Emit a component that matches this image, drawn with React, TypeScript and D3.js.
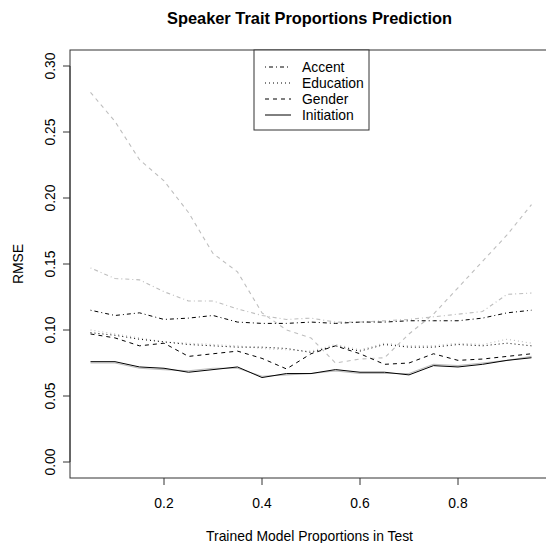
import React from 'react';
import * as d3 from 'd3';

// proportions of the trained model in test
const props = [0.05, 0.1, 0.15, 0.2, 0.25, 0.3, 0.35, 0.4, 0.45, 0.5, 0.55, 0.6, 0.65, 0.7, 0.75, 0.8, 0.85, 0.9, 0.95];

// black lines
const accentBlack = [0.115, 0.111, 0.113, 0.108, 0.109, 0.111, 0.106, 0.105, 0.105, 0.106, 0.105, 0.106, 0.106, 0.107, 0.107, 0.107, 0.109, 0.113, 0.115];
const educationBlack = [0.098, 0.096, 0.093, 0.091, 0.089, 0.088, 0.087, 0.087, 0.086, 0.083, 0.088, 0.084, 0.089, 0.087, 0.087, 0.089, 0.088, 0.090, 0.088];
const genderBlack = [0.097, 0.094, 0.088, 0.090, 0.080, 0.082, 0.084, 0.0785, 0.0705, 0.082, 0.088, 0.082, 0.074, 0.075, 0.082, 0.077, 0.078, 0.080, 0.082];
const initiationBlack = [0.076, 0.076, 0.072, 0.071, 0.068, 0.070, 0.072, 0.064, 0.067, 0.067, 0.070, 0.068, 0.068, 0.066, 0.073, 0.072, 0.074, 0.077, 0.079];

// grey lines
const accentGrey = [0.147, 0.139, 0.138, 0.129, 0.122, 0.122, 0.116, 0.111, 0.108, 0.109, 0.106, 0.106, 0.107, 0.108, 0.110, 0.112, 0.114, 0.127, 0.128];
const educationGrey = [0.100, 0.097, 0.094, 0.091, 0.090, 0.089, 0.088, 0.086, 0.085, 0.084, 0.089, 0.085, 0.090, 0.088, 0.088, 0.090, 0.089, 0.093, 0.090];
const genderGrey = [0.280, 0.258, 0.229, 0.213, 0.189, 0.158, 0.144, 0.113, 0.100, 0.094, 0.075, 0.078, 0.079, 0.097, 0.112, 0.132, 0.152, 0.172, 0.195];
const initiationGrey = [0.075, 0.075, 0.071, 0.070, 0.069, 0.071, 0.071, 0.065, 0.066, 0.067, 0.069, 0.067, 0.067, 0.067, 0.074, 0.073, 0.075, 0.077, 0.080];

const xTicks = [0.2, 0.4, 0.6, 0.8];
const yTicks = [0, 0.05, 0.1, 0.15, 0.2, 0.25, 0.3];
const traits = ['Accent', 'Education', 'Gender', 'Initiation'];
const dashes = ['1 3 4 3', '1 3', '4 4', 'none'];

const W = 546;
const H = 543;
const font = '"Liberation Sans", Arial, sans-serif';

const App = () => {
    const x = d3.scaleLinear().domain([0, 1]).range([66, 556]);
    const y = d3.scaleLinear().domain([0, 0.3]).range([462, 66]);
    const line = d3.line<number>().x((d, i) => x(props[i])).y(d => y(d));

    const greySeries = [accentGrey, educationGrey, genderGrey, initiationGrey];
    const blackSeries = [accentBlack, educationBlack, genderBlack, initiationBlack];

    const left = 70, top = 50, bottom = 478, right = 549;

    return (
        <svg width={W} height={H} style={{ position: 'absolute', left: 0, top: 0 }} fontFamily={font}>
            <rect width={W} height={H} fill="#fff" />
            <text x={(left + right) / 2} y={24} textAnchor="middle" fontWeight="bold" fontSize={16.4}>
                Speaker Trait Proportions Prediction
            </text>

            {/* lines */}
            {greySeries.map((s, i) => (
                <path key={'g' + i} d={line(s) || ''} fill="none" stroke="#bebebe" strokeWidth={1.1}
                    strokeDasharray={dashes[i]} />
            ))}
            {blackSeries.map((s, i) => (
                <path key={'b' + i} d={line(s) || ''} fill="none" stroke="#000" strokeWidth={1}
                    strokeDasharray={dashes[i]} />
            ))}

            {/* box */}
            <rect x={left} y={top} width={right - left} height={bottom - top} fill="none" stroke="#333" strokeWidth={1} />

            {/* x axis */}
            {xTicks.map(t => (
                <g key={t}>
                    <line x1={x(t)} x2={x(t)} y1={bottom} y2={bottom + 7} stroke="#333" />
                    <text x={x(t)} y={508} textAnchor="middle" fontSize={13.9}>{t.toFixed(1)}</text>
                </g>
            ))}
            <text x={(left + right) / 2} y={541} textAnchor="middle" fontSize={13.9}>Trained Model Proportions in Test</text>

            {/* y axis */}
            <line x1={left} x2={left} y1={y(0)} y2={y(0.3)} stroke="#333" />
            {yTicks.map(t => (
                <g key={t}>
                    <line x1={left - 7} x2={left} y1={y(t)} y2={y(t)} stroke="#333" />
                    <text transform={`translate(55,${y(t)}) rotate(-90)`} textAnchor="middle" fontSize={13.9}>{t.toFixed(2)}</text>
                </g>
            ))}
            <text transform={`translate(23,${(top + bottom) / 2}) rotate(-90)`} textAnchor="middle" fontSize={13.9}>RMSE</text>

            {/* legend */}
            <rect x={254} y={50} width={115} height={80} fill="#fff" stroke="#333" />
            {traits.map((t, i) => (
                <g key={t}>
                    <line x1={265} x2={291} y1={67 + i * 16} y2={67 + i * 16} stroke="#000" strokeDasharray={dashes[i]} />
                    <text x={302} y={67 + i * 16 + 5} fontSize={13.9}>{t}</text>
                </g>
            ))}
        </svg>
    );
};

export default App;
